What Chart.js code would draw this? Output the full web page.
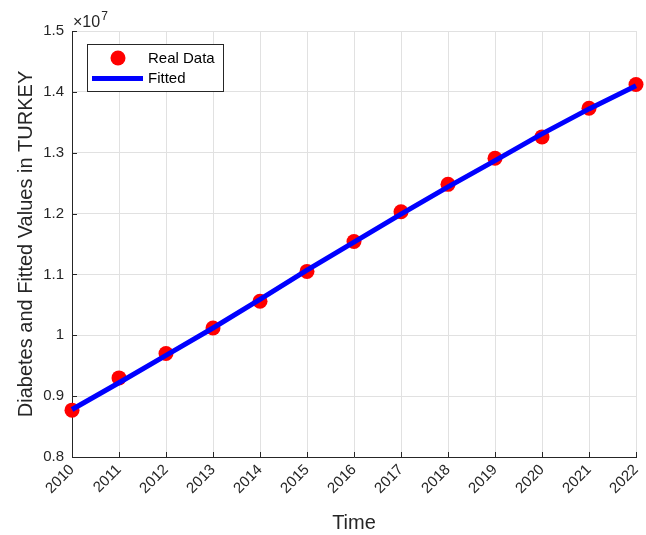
<!DOCTYPE html>
<html>
<head>
<meta charset="utf-8">
<script src="https://cdn.jsdelivr.net/npm/chart.js@4/dist/chart.umd.min.js"></script>
<style>
  html, body { margin: 0; padding: 0; background: #ffffff; }
  #chart { display: block; }
</style>
</head>
<body>
<canvas id="chart" width="646" height="535"></canvas>
<script>
// Yearly diabetes counts in Turkey and the fitted model values
const years = [2010, 2011, 2012, 2013, 2014, 2015, 2016, 2017, 2018, 2019, 2020, 2021, 2022];
const realData = [8770000, 9300000, 9700000, 10120000, 10560000, 11050000, 11540000,
                  12030000, 12480000, 12910000, 13260000, 13730000, 14120000];
const fittedData = [8780000, 9220000, 9670000, 10120000, 10590000, 11070000, 11530000,
                    11990000, 12440000, 12870000, 13310000, 13720000, 14100000];
const yTicks = [8000000, 9000000, 10000000, 11000000, 12000000, 13000000, 14000000, 15000000];
const yScaleFactor = 1e7;

const FONT = '"Liberation Sans", Arial, Helvetica, sans-serif';
const INK = '#262626';
const GRID = '#e1e1e1';

// Inward tick marks, the x10^7 multiplier and the boxed legend
const decorations = {
  id: 'decorations',
  afterDraw(chart) {
    const { ctx, chartArea: a, scales: { x, y } } = chart;
    ctx.save();
    ctx.strokeStyle = INK;
    ctx.lineWidth = 1;
    ctx.beginPath();
    years.forEach(v => {
      const px = Math.round(x.getPixelForValue(v)) + 0.5;
      ctx.moveTo(px, a.bottom);
      ctx.lineTo(px, a.bottom - 5);
    });
    yTicks.forEach(v => {
      const py = Math.round(y.getPixelForValue(v)) + 0.5;
      ctx.moveTo(a.left, py);
      ctx.lineTo(a.left + 5, py);
    });
    ctx.stroke();

    // exponent label above the y axis
    ctx.fillStyle = INK;
    ctx.textBaseline = 'alphabetic';
    ctx.textAlign = 'left';
    ctx.font = '16px ' + FONT;
    ctx.fillText('\u00d710', a.left + 1, a.top - 4);
    const w = ctx.measureText('\u00d710').width;
    ctx.font = '12px ' + FONT;
    ctx.fillText('7', a.left + 2 + w, a.top - 11);

    // legend box
    const real = chart.data.datasets[0];
    const fit = chart.data.datasets[1];
    const bx = 87, by = 44, bw = 136, bh = 47;
    ctx.fillStyle = '#ffffff';
    ctx.fillRect(bx, by, bw, bh);
    ctx.strokeStyle = INK;
    ctx.strokeRect(bx + 0.5, by + 0.5, bw, bh);

    ctx.fillStyle = real.backgroundColor;
    ctx.beginPath();
    ctx.arc(118, 58, 7.5, 0, Math.PI * 2);
    ctx.fill();

    ctx.strokeStyle = fit.borderColor;
    ctx.lineWidth = fit.borderWidth;
    ctx.beginPath();
    ctx.moveTo(92, 78.5);
    ctx.lineTo(143, 78.5);
    ctx.stroke();

    ctx.fillStyle = '#000000';
    ctx.font = '15px ' + FONT;
    ctx.textBaseline = 'middle';
    ctx.fillText(real.label, 148, 58.5);
    ctx.fillText(fit.label, 148, 79);
    ctx.restore();
  }
};

new Chart(document.getElementById('chart'), {
  type: 'line',
  data: {
    datasets: [
      {
        label: 'Real Data',
        data: years.map((yr, i) => ({ x: yr, y: realData[i] })),
        showLine: false,
        pointStyle: 'circle',
        pointRadius: 7.5,
        pointBorderWidth: 0,
        backgroundColor: '#ff0000',
        borderColor: '#ff0000',
        clip: false,
        order: 1
      },
      {
        label: 'Fitted',
        data: years.map((yr, i) => ({ x: yr, y: fittedData[i] })),
        borderColor: '#0000ff',
        backgroundColor: '#0000ff',
        borderWidth: 5,
        pointRadius: 0,
        tension: 0,
        clip: false,
        order: 0
      }
    ]
  },
  options: {
    responsive: false,
    animation: false,
    devicePixelRatio: 1,
    layout: { padding: { left: 0, top: 31, right: 10, bottom: 0 } },
    plugins: {
      legend: { display: false },
      tooltip: { enabled: false }
    },
    scales: {
      x: {
        type: 'linear',
        min: 2010,
        max: 2022,
        afterFit(scale) {
          scale.height = 78;
          scale.paddingLeft = 0;
          scale.paddingRight = 0;
        },
        afterBuildTicks(scale) { scale.ticks = years.map(v => ({ value: v })); },
        ticks: {
          autoSkip: false,
          minRotation: 45,
          maxRotation: 45,
          padding: 4,
          color: INK,
          font: { family: FONT, size: 15 },
          callback: v => String(v)
        },
        grid: { color: GRID, lineWidth: 1, drawTicks: false },
        border: { display: true, color: INK, width: 1 },
        title: {
          display: true,
          text: 'Time',
          color: INK,
          font: { family: FONT, size: 20 },
          padding: { top: 0, bottom: 0 }
        }
      },
      y: {
        type: 'linear',
        min: 8000000,
        max: 15000000,
        afterFit(scale) {
          scale.width = 72;
          scale.paddingTop = 0;
          scale.paddingBottom = 0;
        },
        afterBuildTicks(scale) { scale.ticks = yTicks.map(v => ({ value: v })); },
        ticks: {
          padding: 8,
          color: INK,
          font: { family: FONT, size: 15 },
          callback: v => String(Number((v / yScaleFactor).toFixed(1)))
        },
        grid: { color: GRID, lineWidth: 1, drawTicks: false },
        border: { display: true, color: INK, width: 1 },
        title: {
          display: true,
          text: 'Diabetes and Fitted Values in TURKEY',
          color: INK,
          font: { family: FONT, size: 20 },
          padding: { top: 14, bottom: 0 }
        }
      }
    }
  },
  plugins: [decorations]
});
</script>
</body>
</html>
